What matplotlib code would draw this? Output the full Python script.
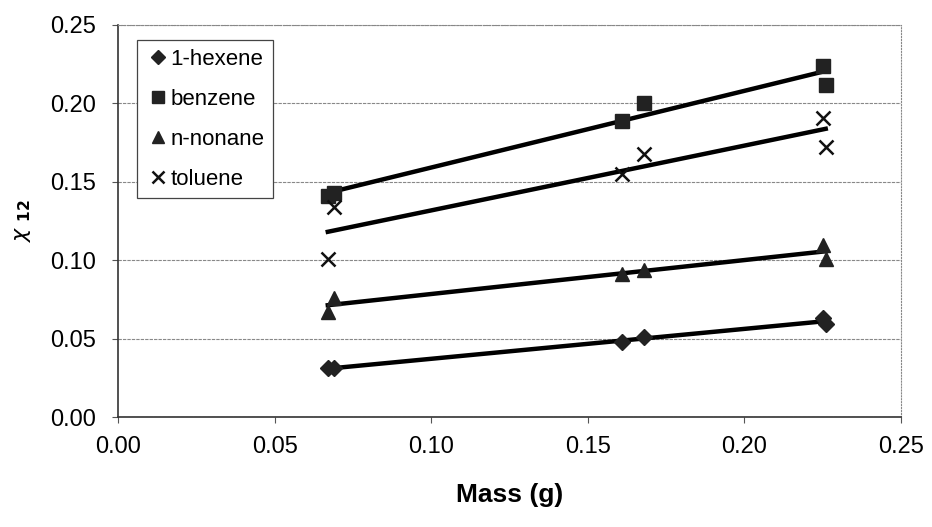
import numpy as np
import matplotlib
matplotlib.use("Agg")
import matplotlib.pyplot as plt

plt.rcParams['font.family'] = ['Liberation Sans', 'DejaVu Sans']

# data (mass in g, chi12)
mass = [0.067, 0.069, 0.161, 0.168, 0.225, 0.226]
hexene = [0.031, 0.031, 0.048, 0.051, 0.063, 0.059]
benzene = [0.141, 0.143, 0.189, 0.200, 0.224, 0.212]
nonane = [0.067, 0.076, 0.091, 0.094, 0.110, 0.101]
toluene = [0.101, 0.134, 0.155, 0.168, 0.191, 0.172]

names = ['1-hexene', 'benzene', 'n-nonane', 'toluene']
markers = ['D', 's', '^', 'x']
sizes = [8, 10, 10, 10]

fig = plt.figure(figsize=(9.32, 5.27), dpi=100)
ax = fig.add_axes([0.1266, 0.2087, 0.84, 0.7439])

x = np.array(mass)
for y, name, m, s in zip([hexene, benzene, nonane, toluene], names, markers, sizes):
    y = np.array(y)
    if m == 'x':
        ax.plot(x, y, linestyle='none', marker=m, markersize=s, color='#111111',
                markeredgewidth=1.8, label=name, zorder=3)
    else:
        ax.plot(x, y, linestyle='none', marker=m, markersize=s, color='#222222',
                label=name, zorder=3)
    # linear trendline like Excel
    k, b = np.polyfit(x, y, 1)
    xs = np.array([x.min(), x.max()])
    ax.plot(xs, k * xs + b, color='black', linewidth=3.2, zorder=2)

ax.set_xlim(0, 0.25)
ax.set_ylim(0, 0.25)
ax.set_xticks(np.arange(0, 0.26, 0.05))
ax.set_yticks(np.arange(0, 0.26, 0.05))
ax.xaxis.set_major_formatter(matplotlib.ticker.FormatStrFormatter('%.2f'))
ax.yaxis.set_major_formatter(matplotlib.ticker.FormatStrFormatter('%.2f'))
ax.tick_params(labelsize=17, length=4, color='#555555')
ax.tick_params(axis='x', pad=10)
ax.tick_params(axis='y', pad=12)
ax.grid(True, axis='y', color='#888888', linestyle=(0, (3, 1)), linewidth=0.8)
ax.set_axisbelow(True)
for side in ['top', 'right']:
    ax.spines[side].set_color('#888888')
    ax.spines[side].set_linestyle(':')
for side in ['left', 'bottom']:
    ax.spines[side].set_color('#333333')
    ax.spines[side].set_linewidth(1.2)

ax.set_xlabel('Mass (g)', fontsize=19, fontweight='bold', labelpad=18)
ax.set_ylabel(r'$\chi$ $_{\mathbf{12}}$', fontsize=16, labelpad=12)

leg = ax.legend(loc='upper left', bbox_to_anchor=(0.01, 0.99), fontsize=16,
                handletextpad=0.0, handlelength=1.1, labelspacing=0.85,
                borderpad=0.4, fancybox=False, framealpha=1, markerscale=0.85)
leg.get_frame().set_edgecolor('#444444')
leg.get_frame().set_linewidth(0.9)

plt.savefig('out.png', dpi=100)
